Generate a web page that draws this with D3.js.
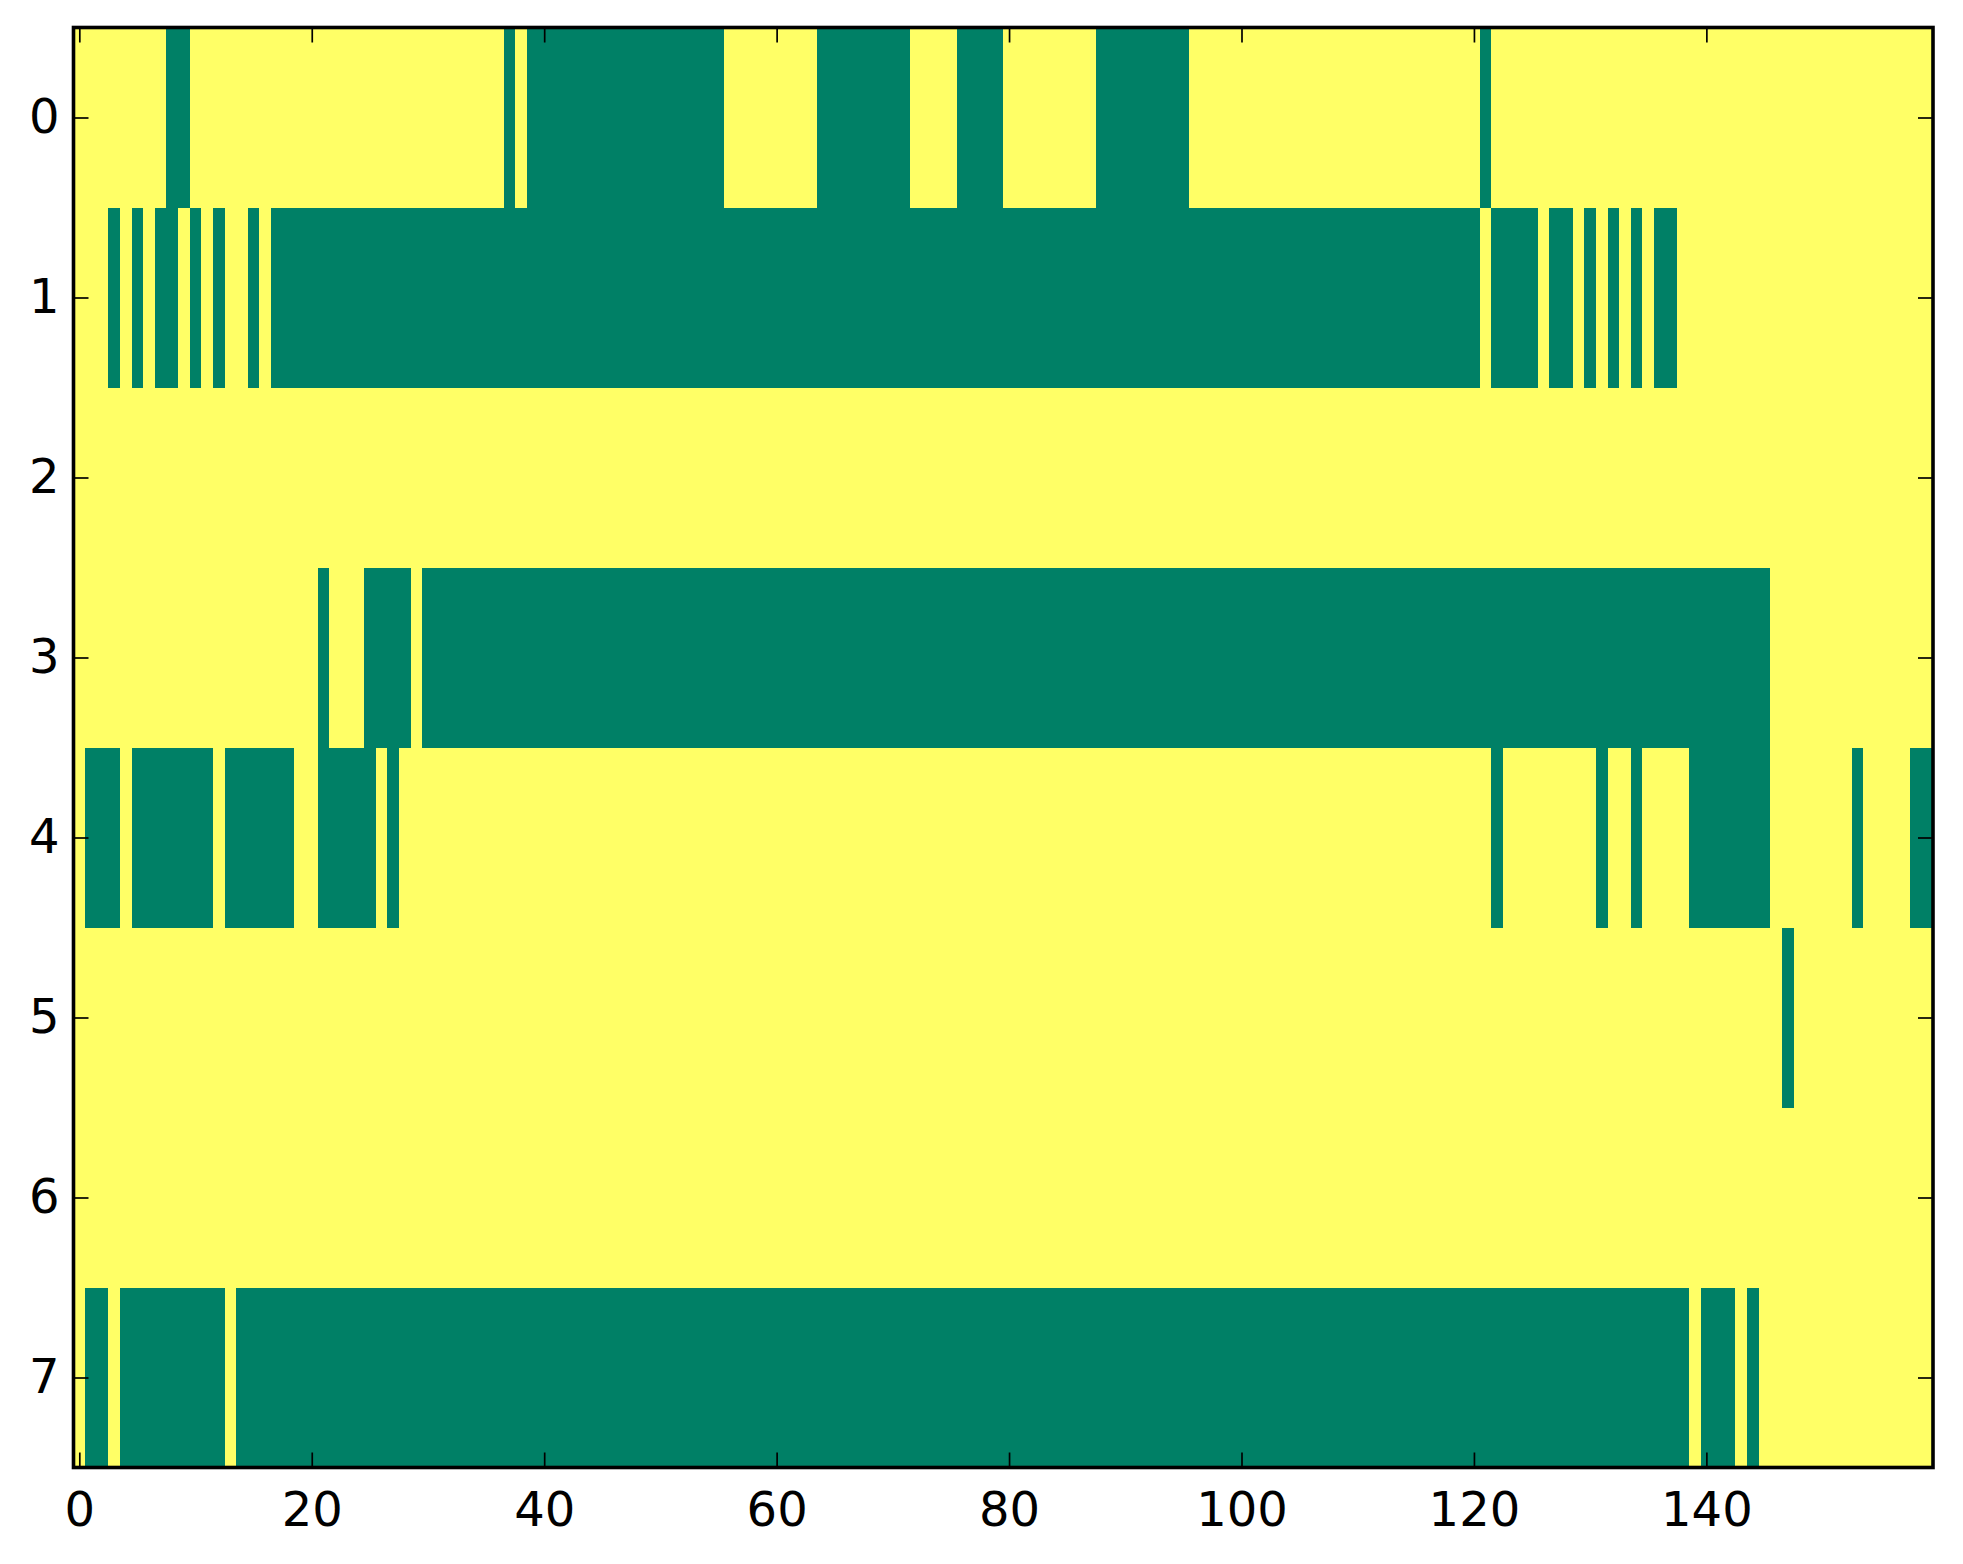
<!DOCTYPE html>
<html>
<head>
<meta charset="utf-8">
<script src="https://cdn.jsdelivr.net/npm/d3@7"></script>
<style>
  html, body { margin: 0; padding: 0; background: #ffffff; }
  svg { display: block; }
</style>
</head>
<body>
<svg id="chart" width="1963" height="1564"></svg>
<script>
// ---- data ----
const nCols = 160;
const rowLabels = [0, 1, 2, 3, 4, 5, 6, 7];
const xTickValues = [0, 20, 40, 60, 80, 100, 120, 140];
// Columns (inclusive runs) whose value is 0 (drawn green); every other cell is 1 (yellow)
const row0Zero = [[8, 9], [37, 37], [39, 55], [64, 71], [76, 79], [88, 95], [121, 121]];
const row1Zero = [[3, 3], [5, 5], [7, 8], [10, 10], [12, 12], [15, 15], [17, 120], [122, 125], [127, 128], [130, 130], [132, 132], [134, 134], [136, 137]];
const row2Zero = [];
const row3Zero = [[21, 21], [25, 28], [30, 145]];
const row4Zero = [[1, 3], [5, 11], [13, 18], [21, 25], [27, 27], [122, 122], [131, 131], [134, 134], [139, 145], [153, 153], [158, 159]];
const row5Zero = [[147, 147]];
const row6Zero = [];
const row7Zero = [[1, 2], [4, 12], [14, 138], [140, 142], [144, 144]];

const rowRuns = [row0Zero, row1Zero, row2Zero, row3Zero, row4Zero, row5Zero, row6Zero, row7Zero];

// build the cell table from the runs
const cells = [];
rowRuns.forEach((runs, r) => {
  for (let c = 0; c < nCols; c++) {
    const isZero = runs.some(([a, b]) => c >= a && c <= b);
    cells.push({ row: r, col: c, value: isZero ? 0 : 1 });
  }
});

// ---- layout ----
const plotLeft = 73.5, plotRight = 1933, plotTop = 27.5, plotBottom = 1467.5;

const svg = d3.select("#chart");
const x = d3.scaleLinear().domain([-0.5, nCols - 0.5]).range([plotLeft, plotRight]);
const y = d3.scaleLinear().domain([-0.5, rowLabels.length - 0.5]).range([plotTop, plotBottom]);
const color = d3.scaleOrdinal().domain([0, 1]).range(["#008066", "#ffff66"]);

svg.append("g")
  .attr("shape-rendering", "crispEdges")
  .selectAll("rect")
  .data(cells)
  .join("rect")
  .attr("x", d => x(d.col - 0.5))
  .attr("y", d => y(d.row - 0.5))
  .attr("width", d => x(d.col + 0.5) - x(d.col - 0.5) + 0.6)
  .attr("height", d => y(d.row + 0.5) - y(d.row - 0.5) + 0.6)
  .attr("fill", d => color(d.value));

const font = "'DejaVu Sans', sans-serif";
const tickLen = 15;

function styleAxis(g) {
  g.select(".domain").remove();
  g.selectAll(".tick line").attr("stroke", "#000").attr("stroke-width", 1.7);
  g.selectAll(".tick text").attr("fill", "#000").attr("font-family", font).attr("font-size", 48);
}

// bottom axis
svg.append("g")
  .attr("transform", `translate(0,${plotBottom})`)
  .call(d3.axisBottom(x).tickValues(xTickValues).tickSizeInner(-tickLen).tickSizeOuter(0).tickPadding(24))
  .call(styleAxis);
// top axis (ticks only)
svg.append("g")
  .attr("transform", `translate(0,${plotTop})`)
  .call(d3.axisTop(x).tickValues(xTickValues).tickSizeInner(-tickLen).tickSizeOuter(0).tickFormat(""))
  .call(styleAxis);
// left axis
svg.append("g")
  .attr("transform", `translate(${plotLeft},0)`)
  .call(d3.axisLeft(y).tickValues(rowLabels).tickSizeInner(-tickLen).tickSizeOuter(0).tickPadding(14).tickFormat(d3.format("d")))
  .call(styleAxis);
// right axis (ticks only)
svg.append("g")
  .attr("transform", `translate(${plotRight},0)`)
  .call(d3.axisRight(y).tickValues(rowLabels).tickSizeInner(-tickLen).tickSizeOuter(0).tickFormat(""))
  .call(styleAxis);

// spines
svg.append("rect")
  .attr("x", plotLeft).attr("y", plotTop)
  .attr("width", plotRight - plotLeft).attr("height", plotBottom - plotTop)
  .attr("fill", "none").attr("stroke", "#000").attr("stroke-width", 3.6);
</script>
</body>
</html>
